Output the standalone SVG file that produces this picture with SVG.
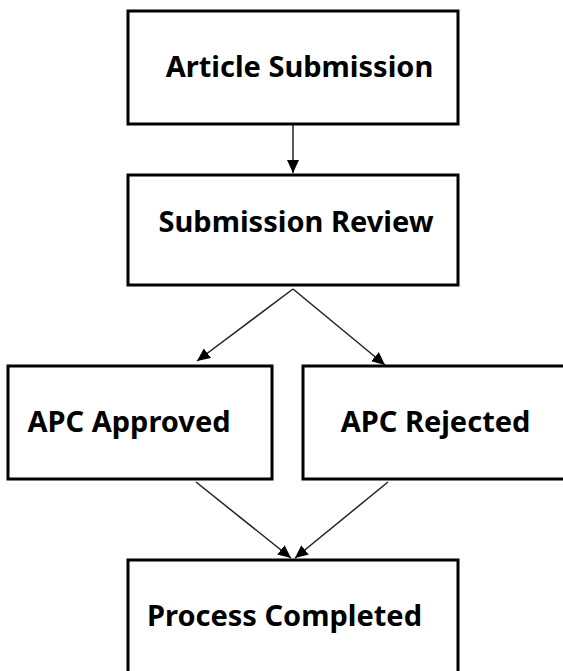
<svg xmlns="http://www.w3.org/2000/svg" width="563" height="671" viewBox="0 0 563 671">
<style>
.box{fill:#fff;stroke:#000;stroke-width:3}
.lbl{font-family:"Noto Sans","Open Sans","Liberation Sans",sans-serif;font-weight:bold;font-size:29px;fill:#000;text-anchor:middle}
.edge{stroke:#222;stroke-width:1.5;fill:none;marker-end:url(#ah)}
</style>
<defs>
<marker id="ah" markerUnits="userSpaceOnUse" markerWidth="14" markerHeight="13" refX="13" refY="6" orient="auto">
<path d="M0,0 L13,6 L0,12 Z" fill="#000"/>
</marker>
</defs>
<rect width="563" height="671" fill="#fff"/>
<g id="edges">
<line class="edge" x1="293" y1="125" x2="293" y2="173"/>
<line class="edge" x1="293" y1="289" x2="197" y2="361"/>
<line class="edge" x1="293" y1="289" x2="385" y2="365"/>
<line class="edge" x1="196" y1="482" x2="291" y2="558"/>
<line class="edge" x1="388" y1="482" x2="295" y2="558"/>
</g>
<g id="article-submission">
<rect class="box" x="128" y="11" width="330" height="113"/>
<text class="lbl" x="299.5" y="77">Article Submission</text>
</g>
<g id="submission-review">
<rect class="box" x="128" y="175" width="330" height="110"/>
<text class="lbl" x="296" y="232">Submission Review</text>
</g>
<g id="apc-approved">
<rect class="box" x="8" y="366" width="264" height="113"/>
<text class="lbl" x="129" y="432">APC Approved</text>
</g>
<g id="apc-rejected">
<rect class="box" x="303" y="366" width="270" height="113"/>
<text class="lbl" x="435.5" y="432">APC Rejected</text>
</g>
<g id="process-completed">
<rect class="box" x="128" y="560" width="330" height="130"/>
<text class="lbl" x="284.5" y="626">Process Completed</text>
</g>
</svg>
